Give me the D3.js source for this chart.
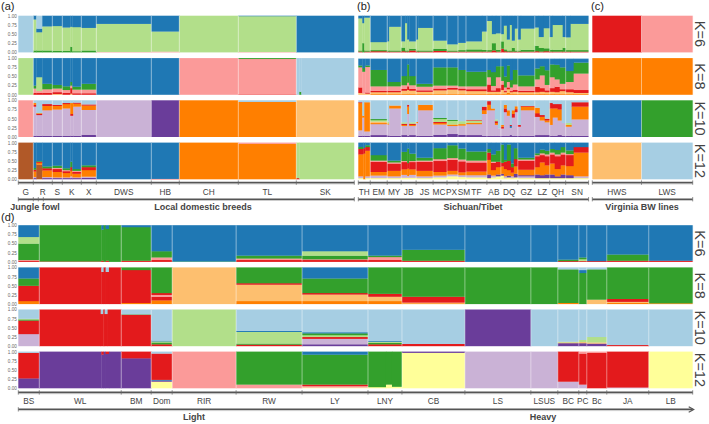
<!DOCTYPE html>
<html><head><meta charset="utf-8">
<script src="https://cdn.jsdelivr.net/npm/d3@7"></script>
<style>body{margin:0;background:#fff}svg{display:block}text{font-family:"Liberation Sans",Arial,sans-serif}</style>
</head><body><svg id="c" width="709" height="424"></svg>
<script>
// ---------- DATA ----------
const compKeys = ["lb","db","lg","g","pk","r","lo","o","lp","p","y","br"]; // order of d3.schemePaired
const kLabels = ["K=6","K=8","K=10","K=12"];
const yTicks = [0, 0.25, 0.5, 0.75, 1];

// Panel (a)
const groupsA = ["G","R","S","K","X","DWS","HB","CH","TL","SK"];
const countsA = [15,19,10,19,15,55,28,59,58,58];
const qA6 = ["lb100", [[3,"g5 lg85 db10"],[6,"g5 lg50 db10 lb35"],[10,"g5 lg66 db29"]], "g4 lg68 db28",
  [[8,"g4 lg64 db32"],[2,"g15 lg55 db30"],[9,"g3 lg66 db31"]], "g5 lg62 db33", "pk1 lg77 db22", "pk2 lg55 db43", "lg100", "pk1 lg98 db1", "db100"];
const qA8 = ["lg100", [[3,"r5 pk12 g8 db75"],[6,"r5 pk5 lg38 db52"],[10,"r5 pk10 g15 db70"]], "lo2 r5 pk10 g10 db73",
  [[8,"r5 pk8 g10 db77"],[2,"lo3 r15 pk7 g10 db65"],[9,"r4 pk10 g8 db78"]], "r4 pk10 g16 db70", "db100", "db100", "pk100", "r1 pk97 g2",
  [[3,"lb100"],[2,"g8 lb92"],[53,"lb100"]]];
const qA10 = ["pk100", [[3,"p3 lp80 r5 o5 lb7"],[6,"p3 lp57 r3 o2 lb35"],[10,"p3 lp70 o12 r5 lb10"]], "p3 lp72 o10 r3 lb12",
  [[8,"p3 lp75 o12 r3 lb7"],[3,"p3 lp55 r5 o30 lb7"],[8,"p3 lp80 o8 r3 lb6"]], "p6 lp68 o12 r3 lb11", "lp100", "p100", "o100", "o96 lb4", "lo100"];
const qA12 = ["br100", [[3,"p3 lp3 o15 r5 g5 db69"],[6,"br40 o5 r3 g2 db50"],[10,"p3 lp3 o18 r6 g5 db65"]], "p3 lp2 o15 r8 pk3 g6 db63",
  [[8,"p3 lp2 o12 r5 pk3 g5 db70"],[2,"p3 lp5 o15 r10 g15 db52"],[9,"p3 lp2 o10 r5 pk3 g5 db72"]], "p4 lp3 o18 r8 g5 db62", "db100", "r1 db99", "o100", "o97 pk3",
  [[3,"r3 lg97"],[55,"lg100"]]];

// Panel (b)
const groupsB = ["TH","EM","MY","JB","JS","MC","PX","SM","TF","AB","DQ","GZ","LZ","QH","SN"];
const countsB = [12,17,14,15,17,14,11,8,21,14,17,17,15,16,23];
const qB6 = [
  [[4,"r2 g3 lg88 db7"],[2,"g25 lg55 db20"],[6,"r2 g3 lg90 db5"]],
  "r3 g3 lg22 db72",
  [[2,"r2 g3 lg25 db70"],[12,"r2 g3 lg65 db30"]],
  [[4,"r3 g10 lg17 db70"],[2,"r2 g3 lg75 db20"],[2,"r2 g3 lg30 db65"],[7,"r5 g5 lg20 db70"]],
  [[2,"r2 g3 lg30 db65"],[15,"r2 g3 lg62 db33"]],
  "r4 g6 lg22 db68",
  "r2 g3 lg17 db78",
  "r2 g4 lg20 db74",
  [[16,"r2 g6 lg22 db70"],[5,"r2 g5 lg50 db43"]],
  [[5,"r2 g4 lg80 db14"],[4,"r5 g20 lg25 db50"],[5,"r2 g5 lg45 db48"]],
  [[3,"r10 g20 lg20 db50"],[3,"r3 g5 lg65 db27"],[3,"r2 g3 lg30 db65"],[2,"r2 g3 lg70 db25"],[3,"r2 g10 lg20 db68"],[3,"r2 g3 lg60 db35"]],
  [[3,"r2 g3 lg30 db65"],[14,"r2 g5 lg58 db35"]],
  [[4,"r3 g15 lg50 db32"],[5,"r2 g10 lg30 db58"],[6,"r3 g8 lg55 db34"]],
  [[3,"r2 g5 lg35 db58"],[10,"r2 g5 lg68 db25"],[3,"r2 g10 lg30 db58"]],
  [[5,"r2 g4 lg35 db59"],[18,"r2 g4 lg72 db22"]]
];
const qB8 = [
  [[4,"lo5 r15 pk55 g5 db18 lb2"],[3,"lo3 pk60 g10 db25 lb2"],[5,"lo3 r3 pk70 g4 db18 lb2"]],
  "o2 lo5 r4 pk12 g45 db30 lb2",
  "o2 lo5 r4 pk12 g12 db63 lb2",
  [[6,"o3 lo8 r5 pk10 g25 db47 lb2"],[2,"o3 lo10 r10 pk10 g50 db15 lb2"],[7,"o3 lo8 r5 pk10 g25 db47 lb2"]],
  "o2 lo6 r4 pk10 g8 db68 lb2",
  "o2 lo10 r5 pk8 g50 db23 lb2",
  "o2 lo12 r5 pk6 g50 db23 lb2",
  "o2 lo10 r5 pk6 g45 db30 lb2",
  "o2 lo8 r5 pk8 g40 db35 lb2",
  [[4,"o3 lo5 r20 pk20 g20 db30 lb2"],[5,"o2 lo6 r4 pk12 g38 db36 lb2"],[5,"o3 lo5 r10 pk30 g30 db20 lb2"]],
  [[3,"o3 lo10 r15 pk10 g40 db20 lb2"],[3,"o2 lo5 r3 pk10 g30 db48 lb2"],[3,"o5 lo10 r5 pk15 g45 db18 lb2"],[3,"o2 lo5 r3 pk10 g20 db58 lb2"],[5,"o3 lo5 r5 pk15 g40 db30 lb2"]],
  "o2 lo5 r4 pk12 g30 db45 lb2",
  [[5,"o2 lo5 r15 pk20 g30 db26 lb2"],[5,"o3 lo5 r10 pk35 g25 db20 lb2"],[5,"o2 lo5 r5 pk15 g40 db31 lb2"]],
  [[5,"o3 lo5 r10 pk30 g35 db15 lb2"],[5,"o2 lo5 r15 pk20 g40 db16 lb2"],[6,"o2 lo8 r5 pk15 g45 db23 lb2"]],
  [[8,"o2 lo5 r8 pk20 g30 db33 lb2"],[15,"o2 lo3 r8 pk45 g30 db10 lb2"]]
];
const qB10 = [
  [[4,"p3 lp15 o75 r2 lb5"],[2,"p3 lp50 o5 lb42"],[6,"p3 lp12 o80 lb5"]],
  "p5 lp30 o3 lo4 lg4 g3 lb51",
  [[2,"p4 lp30 o3 lg5 lb58"],[12,"p3 lp75 o8 lb14"]],
  [[6,"p5 lp25 o3 r3 lg4 lb60"],[2,"p3 lp60 o20 r5 lb12"],[7,"p5 lp25 o3 r3 lg4 lb60"]],
  [[2,"p3 lp35 o3 lb59"],[15,"p3 lp70 o15 lb12"]],
  "p6 lp28 o4 r3 lg8 g3 lb48",
  "p8 lp22 o4 lg10 g3 lb53",
  "p6 lp25 o4 lg8 lb57",
  [[16,"p5 lp30 o4 lg6 r2 lb53"],[5,"p3 lp60 o10 r10 lb17"]],
  [[4,"p3 lp70 o15 r10 lb2"],[4,"p3 lp70 o5 lb22"],[3,"p3 lp30 o5 r5 lg5 lb52"],[3,"p3 lp20 lb77"]],
  [[3,"p3 lp20 r5 o5 lb67"],[3,"p3 lp65 r10 o10 lb12"],[3,"p3 lp55 o15 lb27"],[2,"p5 lp20 db5 r3 lb67"],[3,"p3 lp50 r10 o10 lb27"],[3,"p3 lp65 r8 o8 lb16"]],
  [[3,"p3 lp25 r5 lb67"],[14,"p3 lp70 o10 r2 lb15"]],
  [[5,"p5 lp50 r10 o15 lb20"],[5,"p5 lp40 o10 r5 lb40"],[5,"p5 lp35 o5 r5 lb50"]],
  [[3,"p3 lp30 o45 r15 lb7"],[5,"p3 lp50 o25 r12 lb10"],[4,"p5 lp40 o30 r15 lb10"],[4,"p3 lp35 lb62"]],
  [[6,"p3 lp25 o5 lg5 lb62"],[17,"p3 lp45 o35 r12 lb5"]]
];
const qB12 = [
  [[5,"y3 lp5 o60 r15 g5 db12"],[2,"o70 r15 db15"],[5,"y3 lp5 o70 r10 g5 db7"]],
  "y3 lp7 o10 r28 pk3 g15 db34",
  "y3 lp5 o15 r20 pk3 g5 db49",
  [[6,"y4 lp8 o15 r20 pk3 g25 db25"],[2,"y4 lp5 o20 r15 g40 db16"],[7,"y4 lp8 o15 r20 pk3 g20 db30"]],
  "y3 lp5 o15 r25 pk3 g8 db41",
  "y5 lp5 o10 r30 pk5 g30 db15",
  "y8 lp5 o10 r30 pk5 g35 db7",
  "y6 lp5 o8 r30 pk5 g30 db16",
  "y5 lp6 o10 r25 pk5 g25 db24",
  [[4,"y3 p10 o40 r20 g10 db17"],[5,"y5 lp5 o15 r20 pk3 g20 db32"],[5,"y8 p5 o20 r15 g30 db22"]],
  [[3,"y10 p5 o20 r10 g50 db5"],[3,"y3 lp5 o20 r20 g5 db47"],[4,"y5 p5 o15 r25 g45 db5"],[3,"y3 lp5 o10 r15 g10 db57"],[4,"y5 p10 o20 r20 g30 db15"]],
  "y3 lp5 p3 o15 r25 pk3 g5 db41",
  [[5,"y3 p10 o20 r30 pk3 g5 db29"],[5,"y3 p8 o35 r20 pk5 g10 db19"],[5,"y3 p10 o25 r25 pk5 g10 db22"]],
  [[5,"y3 p10 o30 r25 pk5 g10 db17"],[6,"y3 p5 o20 r35 pk5 g12 db20"],[5,"y3 p10 o25 r30 pk5 g15 db12"]],
  [[8,"y3 p8 o25 r30 pk3 g10 db21"],[15,"y3 lp5 o65 r15 db12"]]
];

// Panel (c)
const groupsC = ["HWS","LWS"];
const countsC = [49,51];
const qC6 = ["r100","pk100"];
const qC8 = ["o100","o100"];
const qC10 = ["db100","g100"];
const qC12 = ["lo100","lb100"];

// Panel (d)
const groupsD = ["BS","WL","BM","Dom","RIR","RW","LY","LNY","CB","LS","LSUS","BC","PC","Bc","JA","LB"];
const countsD = [21,82,30,21,64,66,66,34,63,66,27,21,8,20,42,44];
const qD6 = ["r3 pk2 g45 lg18 db32",
  [[187,"r1 g99"],[7,"r3 g85 db12"],[6,"g100"],[10,"r3 g87 db10"],[37,"g100"]],
  "r3 g92 db5", "r5 pk7 g17 db71", "g1 db99", "r5 pk4 g8 db83", "r5 pk2 g10 lg12 db71",
  "r5 pk8 g4 db83", "r3 g30 db67", "db100", "db100", "r2 g4 db94", "r2 lg5 g5 db88", "r2 db98", "r3 g17 db80", "r3 db97"];
const qD8 = ["o8 r42 g20 db30",
  [[187,"r100"],[7,"r88 lb12"],[6,"r100"],[10,"r88 lb12"],[37,"r100"]],
  "o3 r90 g7", "o10 r10 pk5 r5 g70", "lo100", "o8 lo45 r4 g43", "o8 lo18 r4 g40 db30",
  "o8 lo12 r8 g72", "o2 lo2 r16 g80", "g100", "g100", "o3 g92 lb5", "g85 db8 lb7", "lo12 g83 lb5", "o3 lo3 r8 g86", "o2 g98"];
const qD10 = ["lp33 r37 g3 lg2 lb25",
  [[185,"r100"],[8,"r88 lb12"],[4,"r100"],[9,"r88 lb12"],[41,"r100"]],
  "r86 g1 lb13", "r5 g5 lg3 db2 lb85", "lg100", "r4 g3 lg32 db3 lb58", "p5 lp15 r5 lg5 g5 db3 lb62",
  "r5 g4 lg3 db2 lb86", "r6 lb94", "p100", "lb100", "p8 lo2 lg2 lb88", "p8 lo3 lg6 lb83", "p7 lo3 lg15 lb75", "r3 lb97", "lb100"];
const qD12 = ["p27 r70 lb3",
  [[187,"p100"],[7,"p92 r8"],[6,"p100"],[10,"p94 r6"],[37,"p100"]],
  "p82 r18", "y18 p3 db2 r72 lb5", "pk100", "pk10 g90", "y2 pk4 r4 g82 db8",
  [[18,"y3 g97"],[6,"y10 g90"],[10,"y4 g96"]], "y97 p3", "lp100", "lp100", "lp18 r82", "lp10 r85 pk5", "r97 pk3", "lp2 r98", "y100"];

// ---------- DRAW ----------
const svg = d3.select("#c");
const colorOf = d3.scaleOrdinal().domain(compKeys).range(d3.schemePaired);

function parseComp(s) {
  const parts = s.trim().split(/\s+/).map(t => {
    const m = t.match(/^([a-z]+)(\d+(?:\.\d+)?)$/);
    return {k: m[1], v: +m[2]};
  });
  const tot = d3.sum(parts, d => d.v);
  return parts.map(d => ({k: d.k, v: d.v / tot}));
}

const rowH = 36.5;
function drawPanel(cfg) {
  const total = d3.sum(cfg.counts);
  const x = d3.scaleLinear().domain([0, total]).range([cfg.x0, cfg.x1]);
  const starts = d3.cumsum([0].concat(cfg.counts)).slice(0, cfg.counts.length + 1);
  cfg.qs.forEach((q, ri) => {
    const top = cfg.tops[ri];
    const y = d3.scaleLinear().domain([0, 1]).range([top + rowH, top]);
    const g = svg.append("g");
    q.forEach((entry, gi) => {
      const subs = typeof entry === "string" ? [[1, entry]] : entry;
      const wsum = d3.sum(subs, d => d[0]);
      let s = starts[gi];
      subs.forEach(([w, comp]) => {
        const n = cfg.counts[gi] * w / wsum;
        let cum = 0;
        parseComp(comp).forEach(c => {
          g.append("rect")
            .attr("x", x(s)).attr("width", x(s + n) - x(s) + 0.35)
            .attr("y", y(cum + c.v)).attr("height", y(cum) - y(cum + c.v) + 0.2)
            .attr("fill", colorOf(c.k));
          cum += c.v;
        });
        s += n;
      });
    });
    g.append("rect").attr("x", cfg.x1).attr("y", top - 1).attr("width", 0.6).attr("height", rowH + 2).attr("fill", "#fff");
    g.selectAll("line.sep").data(starts.slice(1, -1)).join("line")
      .attr("x1", d => x(d)).attr("x2", d => x(d)).attr("y1", top).attr("y2", top + rowH)
      .attr("stroke", "#fff").attr("stroke-opacity", 0.55).attr("stroke-width", 0.8);
    if (cfg.yAxis) {
      const ax = svg.append("g").attr("transform", `translate(${cfg.x0 - 1.5},0)`)
        .call(d3.axisLeft(y).tickValues(yTicks).tickFormat(d3.format(".2f")).tickSize(0).tickPadding(0));
      ax.select(".domain").remove();
      ax.selectAll("text").attr("font-size", 4.6).attr("fill", "#666").attr("font-family", "Liberation Sans, Arial, sans-serif");
    }
  });
  const ay = cfg.axisY;
  svg.append("line").attr("x1", cfg.x0).attr("x2", cfg.x1).attr("y1", ay).attr("y2", ay)
    .attr("stroke", "#555").attr("stroke-width", 1.6);
  svg.append("line").attr("x1", cfg.x0).attr("x2", cfg.x1).attr("y1", ay + 1.3).attr("y2", ay + 1.3)
    .attr("stroke", "#aaa").attr("stroke-width", 0.6);
  svg.append("g").selectAll("line").data(starts).join("line")
    .attr("x1", d => x(d)).attr("x2", d => x(d)).attr("y1", ay - 2.2).attr("y2", ay + 2.2)
    .attr("stroke", "#666").attr("stroke-width", 0.7);
  const labels = svg.append("g").selectAll("text").data(cfg.groups).join("text")
    .attr("x", (d, i) => x(starts[i] + cfg.counts[i] / 2)).attr("y", ay + 12)
    .attr("text-anchor", "middle").attr("font-size", 8.3).attr("fill", "#444").text(d => d);
  // resolve overlaps by nudging crowded labels apart
  const nodes = labels.nodes();
  const boxes = nodes.map(n => ({n, w: n.getComputedTextLength(), c: +n.getAttribute("x")}));
  for (let pass = 0; pass < 6; pass++) {
    for (let i = 1; i < boxes.length; i++) {
      const a = boxes[i - 1], b = boxes[i];
      const gap = (b.c - b.w / 2) - (a.c + a.w / 2) - 0.6;
      if (gap < 0) { a.c += gap / 2; b.c -= gap / 2; }
    }
  }
  boxes.forEach(b => b.n.setAttribute("x", b.c));
  return x;
}

const topsTop = [15.7, 58.1, 100.3, 142.6];
const topsBot = [225.2, 267.4, 309.5, 351.6];

drawPanel({groups: groupsA, counts: countsA, qs: [qA6, qA8, qA10, qA12], x0: 18.3, x1: 354.3, tops: topsTop, axisY: 182.6, yAxis: true});
drawPanel({groups: groupsB, counts: countsB, qs: [qB6, qB8, qB10, qB12], x0: 358.3, x1: 588.6, tops: topsTop, axisY: 182.6, yAxis: false});
drawPanel({groups: groupsC, counts: countsC, qs: [qC6, qC8, qC10, qC12], x0: 592.3, x1: 692.7, tops: topsTop, axisY: 182.6, yAxis: false});
drawPanel({groups: groupsD, counts: countsD, qs: [qD6, qD8, qD10, qD12], x0: 18.3, x1: 692.7, tops: topsBot, axisY: 392.4, yAxis: true});

function superAxis(x0, x1, y, ticks, labels, arrow) {
  svg.append("line").attr("x1", x0).attr("x2", x1).attr("y1", y).attr("y2", y)
    .attr("stroke", "#555").attr("stroke-width", 1.6);
  svg.append("line").attr("x1", x0).attr("x2", x1).attr("y1", y + 1.3).attr("y2", y + 1.3)
    .attr("stroke", "#aaa").attr("stroke-width", 0.6);
  svg.append("g").selectAll("line").data(ticks).join("line")
    .attr("x1", d => d).attr("x2", d => d).attr("y1", y - 2.2).attr("y2", y + 2.2)
    .attr("stroke", "#666").attr("stroke-width", 0.7);
  if (arrow) {
    svg.append("path").attr("d", `M${x1 - 4},${y - 2.5} L${x1 + 1},${y + 0.3} L${x1 - 4},${y + 3}`)
      .attr("fill", "none").attr("stroke", "#555").attr("stroke-width", 1.2);
  }
  svg.append("g").selectAll("text").data(labels).join("text")
    .attr("x", d => d[1]).attr("y", y + 10.5).attr("text-anchor", "middle")
    .attr("font-size", 9).attr("font-weight", "bold").attr("fill", "#444").text(d => d[0]);
}
superAxis(18.3, 354.3, 199.2, [18.3, 33.3, 38.3, 43.3, 354.3], [["Jungle fowl", 35], ["Local domestic breeds", 203]], false);
superAxis(358.3, 588.6, 199.2, [358.3, 588.6], [["Sichuan/Tibet", 473]], false);
superAxis(592.3, 692.7, 199.2, [592.3, 692.7], [["Virginia BW lines", 642]], false);
superAxis(18.3, 692.7, 409.3, [18.3], [["Light", 194], ["Heavy", 543]], true);

[["(a)", 1, 10], ["(b)", 357, 10], ["(c)", 591, 10], ["(d)", 1, 221]].forEach(([t, px, py]) =>
  svg.append("text").attr("x", px).attr("y", py).attr("font-size", 11).attr("fill", "#222").text(t));

[topsTop, topsBot].forEach(tops => tops.forEach((t, i) => {
  const cy = t + rowH / 2;
  svg.append("text").attr("transform", `translate(695,${cy}) rotate(90)`)
    .attr("text-anchor", "middle").attr("font-size", 14.5).attr("fill", "#444").text(kLabels[i]);
}));
</script></body></html>
